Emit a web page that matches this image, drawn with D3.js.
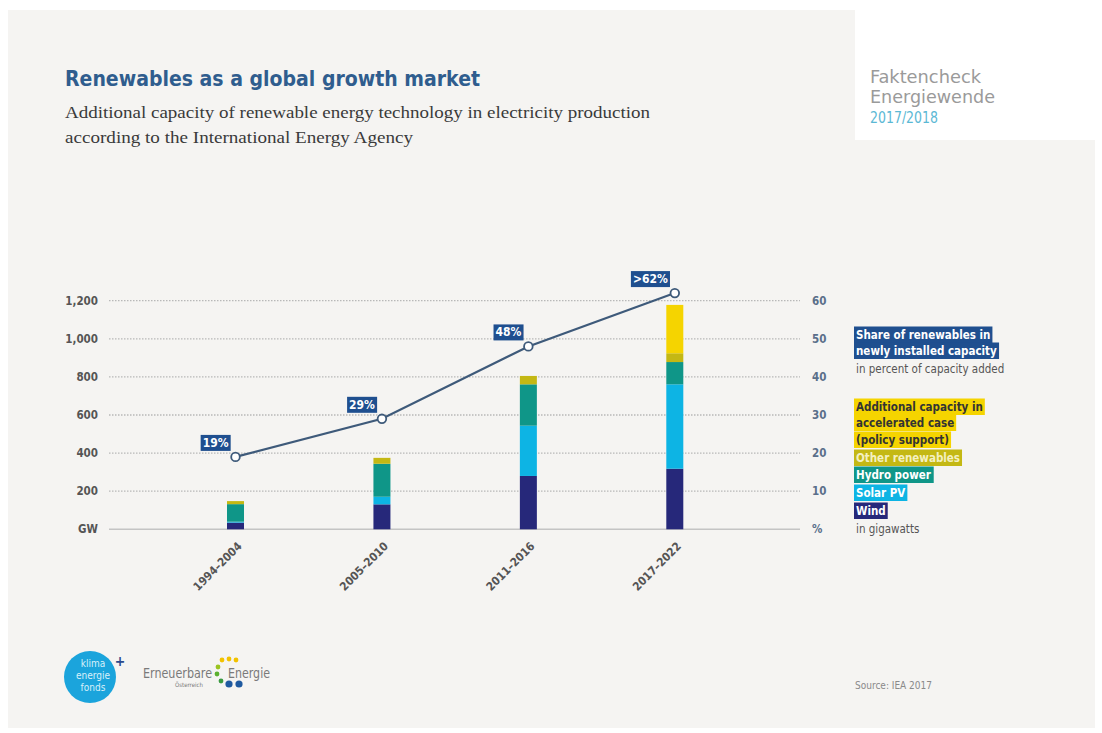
<!DOCTYPE html>
<html>
<head>
<meta charset="utf-8">
<script src="https://cdn.jsdelivr.net/npm/d3@7"></script>
<style>
  body { margin: 0; background: #fff; }
  svg { display: block; }
  text { font-family: "DejaVu Sans Condensed", "Liberation Sans Narrow", "Roboto", sans-serif; }
</style>
</head>
<body>
<svg id="chart" width="1102" height="733"></svg>
<script>
// data
var periods = ["1994–2004", "2005–2010", "2011–2016", "2017–2022"];
var wind = [35, 131, 280, 318];
var solar = [5, 40, 264, 443];
var hydro = [92, 173, 217, 117];
var other = [16, 31, 44, 46];
var accelerated = [0, 0, 0, 254];
var share = [19, 29, 48, 62];
var shareLabels = ["19%", "29%", "48%", ">62%"];
var gwTicks = [200, 400, 600, 800, 1000, 1200];
var pctTicks = [10, 20, 30, 40, 50, 60];

var seriesKeys = ["wind", "solar", "hydro", "other", "accelerated"];
var colors = {wind: "#26287a", solar: "#0db4e4", hydro: "#0f9688", other: "#c4b814", accelerated: "#f5d400"};

var svg = d3.select("#chart");
var blue = "#1f4f8f", lineCol = "#3e5a7a", axisText = "#555";

// background panels
svg.append("rect").attr("x", 8).attr("y", 10).attr("width", 1087).attr("height", 718).attr("fill", "#f5f4f2");
svg.append("rect").attr("x", 855).attr("y", 0).attr("width", 247).attr("height", 140).attr("fill", "#fff");

// titles
svg.append("text").attr("x", 65).attr("y", 86).attr("font-size", 22).attr("font-weight", "bold")
  .attr("fill", "#2f5d8e").attr("textLength", 415).attr("lengthAdjust", "spacingAndGlyphs")
  .text("Renewables as a global growth market");
svg.append("text").attr("x", 65).attr("y", 118).attr("font-size", 16).attr("fill", "#3a3a3a")
  .style("font-family", "'Liberation Serif', 'DejaVu Serif', serif")
  .attr("textLength", 585).attr("lengthAdjust", "spacingAndGlyphs")
  .text("Additional capacity of renewable energy technology in electricity production");
svg.append("text").attr("x", 65).attr("y", 143).attr("font-size", 16).attr("fill", "#3a3a3a")
  .style("font-family", "'Liberation Serif', 'DejaVu Serif', serif")
  .attr("textLength", 348).attr("lengthAdjust", "spacingAndGlyphs")
  .text("according to the International Energy Agency");

svg.append("text").attr("x", 870).attr("y", 83).attr("font-size", 18).attr("fill", "#9a9a9a")
  .attr("textLength", 111).attr("lengthAdjust", "spacingAndGlyphs").text("Faktencheck");
svg.append("text").attr("x", 870).attr("y", 103).attr("font-size", 18).attr("fill", "#9a9a9a")
  .attr("textLength", 125).attr("lengthAdjust", "spacingAndGlyphs").text("Energiewende");
svg.append("text").attr("x", 870).attr("y", 123).attr("font-size", 15).attr("fill", "#5bb8d4")
  .attr("textLength", 68).attr("lengthAdjust", "spacingAndGlyphs").text("2017/2018");

// scales
var x = d3.scalePoint().domain(periods).range([235.5, 674.8]);
var yL = d3.scaleLinear().domain([0, 1200]).range([529.3, 300.7]);
var yR = d3.scaleLinear().domain([0, 60]).range([529.3, 300.7]);
var gridX0 = 109, gridX1 = 800, barW = 17;

// gridlines
svg.append("g").selectAll("line").data(gwTicks).enter().append("line")
  .attr("x1", gridX0).attr("x2", gridX1)
  .attr("y1", function(d) { return yL(d); }).attr("y2", function(d) { return yL(d); })
  .attr("stroke", "#b8b8b8").attr("stroke-width", 1.3).attr("stroke-dasharray", "1.5,1.5");
svg.append("line").attr("x1", gridX0).attr("x2", gridX1).attr("y1", yL(0)).attr("y2", yL(0))
  .attr("stroke", "#c4c4c4").attr("stroke-width", 1.6);

// left axis
var left = svg.append("g").attr("transform", "translate(98,0)")
  .call(d3.axisLeft(yL).tickValues([0].concat(gwTicks)).tickSize(0).tickPadding(0)
    .tickFormat(function(d) { return d === 0 ? "GW" : d3.format(",")(d); }));
left.select(".domain").remove();
left.selectAll("text").attr("font-size", 11.5).attr("font-weight", "bold").attr("fill", axisText)
  .style("font-family", "'DejaVu Sans Condensed', 'Liberation Sans Narrow', sans-serif");

// right axis
var right = svg.append("g").attr("transform", "translate(812,0)")
  .call(d3.axisRight(yR).tickValues([0].concat(pctTicks)).tickSize(0).tickPadding(0)
    .tickFormat(function(d) { return d === 0 ? "%" : d; }));
right.select(".domain").remove();
right.selectAll("text").attr("font-size", 11.5).attr("font-weight", "bold").attr("fill", "#5a6f8a")
  .style("font-family", "'DejaVu Sans Condensed', 'Liberation Sans Narrow', sans-serif");

// stacked bars
var rows = periods.map(function(p, i) {
  return {period: p, wind: wind[i], solar: solar[i], hydro: hydro[i], other: other[i], accelerated: accelerated[i]};
});
var stack = d3.stack().keys(seriesKeys)(rows);
svg.append("g").selectAll("g").data(stack).enter().append("g")
  .attr("fill", function(d) { return colors[d.key]; })
  .selectAll("rect").data(function(d) { return d; }).enter().append("rect")
  .attr("x", function(d) { return x(d.data.period) - barW / 2; })
  .attr("width", barW)
  .attr("y", function(d) { return yL(d[1]); })
  .attr("height", function(d) { return yL(d[0]) - yL(d[1]); });

// x labels
svg.append("g").selectAll("text").data(periods).enter().append("text")
  .attr("transform", function(d) { return "translate(" + (x(d) + 7) + ",547) rotate(-45)"; })
  .attr("text-anchor", "end").attr("font-size", 11.5).attr("font-weight", "bold").attr("fill", axisText)
  .text(function(d) { return d; });

// share line
var line = d3.line().x(function(d, i) { return x(periods[i]); }).y(function(d) { return yR(d); });
svg.append("path").datum(share).attr("d", line).attr("fill", "none")
  .attr("stroke", lineCol).attr("stroke-width", 2.2);
svg.append("g").selectAll("circle").data(share).enter().append("circle")
  .attr("cx", function(d, i) { return x(periods[i]); }).attr("cy", function(d) { return yR(d); })
  .attr("r", 4.3).attr("fill", "#fff").attr("stroke", lineCol).attr("stroke-width", 1.8);

// share labels
var lab = svg.append("g").selectAll("g").data(share).enter().append("g");
lab.append("text")
  .attr("x", function(d, i) { return x(periods[i]) - 7; })
  .attr("y", function(d) { return yR(d) - 10; })
  .attr("text-anchor", "end").attr("font-size", 12).attr("font-weight", "bold").attr("fill", "#fff")
  .text(function(d, i) { return shareLabels[i]; })
  .each(function() {
    var b = this.getBBox();
    d3.select(this.parentNode).insert("rect", "text")
      .attr("x", b.x - 2).attr("y", b.y - 1).attr("width", b.width + 4).attr("height", b.height + 2)
      .attr("fill", blue);
  });

// legend
var legendRows = [
  {t: "Share of renewables in", bg: blue, c: "#fff", y: 339},
  {t: "newly installed capacity", bg: blue, c: "#fff", y: 355},
  {t: "in percent of capacity added", bg: null, c: "#555", y: 373},
  {t: "Additional capacity in", bg: colors.accelerated, c: "#333", y: 411},
  {t: "accelerated case", bg: colors.accelerated, c: "#333", y: 427},
  {t: "(policy support)", bg: colors.accelerated, c: "#333", y: 444},
  {t: "Other renewables", bg: colors.other, c: "#f4f0c0", y: 462},
  {t: "Hydro power", bg: colors.hydro, c: "#fff", y: 479},
  {t: "Solar PV", bg: colors.solar, c: "#fff", y: 497},
  {t: "Wind", bg: colors.wind, c: "#fff", y: 515},
  {t: "in gigawatts", bg: null, c: "#555", y: 533}
];
var lg = svg.append("g").selectAll("g").data(legendRows).enter().append("g");
lg.append("text").attr("x", 856).attr("y", function(d) { return d.y; })
  .attr("font-size", 11.5).attr("font-weight", function(d) { return d.bg ? "bold" : "normal"; })
  .attr("fill", function(d) { return d.c; })
  .text(function(d) { return d.t; })
  .each(function(d) {
    if (!d.bg) return;
    var b = this.getBBox();
    d3.select(this.parentNode).insert("rect", "text")
      .attr("x", 854).attr("y", d.y - 12.5).attr("width", b.width + 4).attr("height", 16.5)
      .attr("fill", d.bg);
  });

// source
svg.append("text").attr("x", 855).attr("y", 689).attr("font-size", 10).attr("fill", "#8a8a8a")
  .text("Source: IEA 2017");

// logos
var logo = svg.append("g");
logo.append("circle").attr("cx", 90).attr("cy", 677).attr("r", 26).attr("fill", "#1ba4dc");
["klima", "energie", "fonds"].forEach(function(w, i) {
  logo.append("text").attr("x", 93).attr("y", 667 + i * 12).attr("text-anchor", "middle")
    .attr("font-size", 10).attr("fill", "#d8f0fa").text(w);
});
logo.append("text").attr("x", 120).attr("y", 666).attr("text-anchor", "middle")
  .attr("font-size", 14).attr("font-weight", "bold").attr("fill", "#2b4a8c").text("+");
logo.append("text").attr("x", 143).attr("y", 678).attr("font-size", 14).attr("fill", "#7a7a7a")
  .attr("textLength", 69).attr("lengthAdjust", "spacingAndGlyphs").text("Erneuerbare");
logo.append("text").attr("x", 228).attr("y", 678).attr("font-size", 14).attr("fill", "#7a7a7a")
  .attr("textLength", 42).attr("lengthAdjust", "spacingAndGlyphs").text("Energie");
logo.append("text").attr("x", 175).attr("y", 687).attr("font-size", 6).attr("fill", "#7a7a7a").text("Österreich");
var dots = [[222, 660, "#f2c200"], [229, 659, "#f2c200"], [236, 660, "#f2c200"], [218, 667, "#9ac420"],
  [217, 674, "#5ab030"], [221, 681, "#3a9a40"], [229, 684, "#1f5aa0"], [239, 684, "#1f5aa0"]];
logo.selectAll("circle.dot").data(dots).enter().append("circle").attr("class", "dot")
  .attr("cx", function(d) { return d[0]; }).attr("cy", function(d) { return d[1]; })
  .attr("r", function(d, i) { return i > 5 ? 3.6 : 2.4; }).attr("fill", function(d) { return d[2]; });
</script>
</body>
</html>
